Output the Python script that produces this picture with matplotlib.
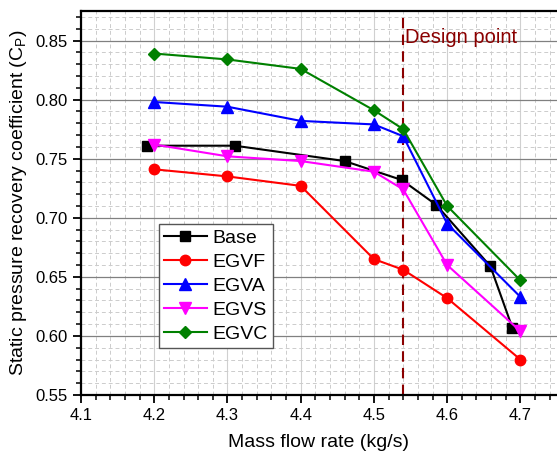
import matplotlib.pyplot as plt
from matplotlib.ticker import MultipleLocator

# data
base_x = [4.19, 4.31, 4.46, 4.538, 4.585, 4.659, 4.689]
base_y = [0.761, 0.761, 0.748, 0.732, 0.711, 0.659, 0.607]

flow = [4.2, 4.3, 4.4, 4.5, 4.54, 4.6, 4.7]
egvf = [0.741, 0.735, 0.727, 0.665, 0.656, 0.632, 0.580]
egva = [0.798, 0.794, 0.782, 0.779, 0.769, 0.695, 0.633]
egvs = [0.762, 0.752, 0.748, 0.739, 0.724, 0.660, 0.604]
egvc = [0.839, 0.834, 0.826, 0.791, 0.775, 0.710, 0.647]

design_x = 4.54

plt.rcParams['font.family'] = ['Liberation Sans', 'DejaVu Sans']

fig = plt.figure(figsize=(5.57, 4.55), dpi=100)
ax = fig.add_axes([0.1454, 0.1319, 0.8546, 0.8439])

ax.plot(base_x, base_y, color='black', marker='s', ms=7, lw=1.5, label='Base')
ax.plot(flow, egvf, color='red', marker='o', ms=7.5, lw=1.5, label='EGVF')
ax.plot(flow, egva, color='blue', marker='^', ms=8, lw=1.5, label='EGVA')
ax.plot(flow, egvs, color='magenta', marker='v', ms=8, lw=1.5, label='EGVS')
ax.plot(flow, egvc, color='green', marker='D', ms=6.5, lw=1.5, label='EGVC')

ax.axvline(design_x, color='#8b0000', ls=(0, (5, 3)), lw=1.5, zorder=1)
ax.text(design_x + 0.003, 0.853, 'Design point', color='#8b0000', fontsize=14.5,
        ha='left', va='center')

ax.set_xlim(4.1, 4.75)
ax.set_ylim(0.55, 0.875)
ax.xaxis.set_major_locator(MultipleLocator(0.1))
ax.xaxis.set_minor_locator(MultipleLocator(0.02))
ax.yaxis.set_major_locator(MultipleLocator(0.05))
ax.yaxis.set_minor_locator(MultipleLocator(0.01))
ax.xaxis.set_major_formatter(plt.FormatStrFormatter('%.1f'))
ax.yaxis.set_major_formatter(plt.FormatStrFormatter('%.2f'))

ax.grid(which='minor', color='#cccccc', ls=(0, (4, 3)), lw=0.7)
ax.grid(which='major', axis='x', color='#d0d0d0', ls='-', lw=0.8)
ax.grid(which='major', axis='y', color='#808080', ls='-', lw=0.9)
ax.set_axisbelow(True)

for s in ['left', 'bottom', 'top']:
    ax.spines[s].set_linewidth(1.6)
ax.spines['right'].set_visible(False)

ax.tick_params(which='major', direction='out', length=6, width=1.3, labelsize=12)
ax.tick_params(which='minor', direction='out', length=3.5, width=1.1)

ax.set_xlabel('Mass flow rate (kg/s)', fontsize=14, labelpad=8)
ax.set_ylabel('Static pressure recovery coefficient (C$_\\mathregular{P}$)', fontsize=14, labelpad=5)

leg = ax.legend(loc='upper left', bbox_to_anchor=(0.164, 0.445), fontsize=14,
                fancybox=False, edgecolor='#555555', framealpha=1,
                handlelength=2.2, borderpad=0.25, labelspacing=0.33, handletextpad=0.3,
                borderaxespad=0)
leg.get_frame().set_linewidth(1.0)

fig.savefig('out.png', dpi=100)
